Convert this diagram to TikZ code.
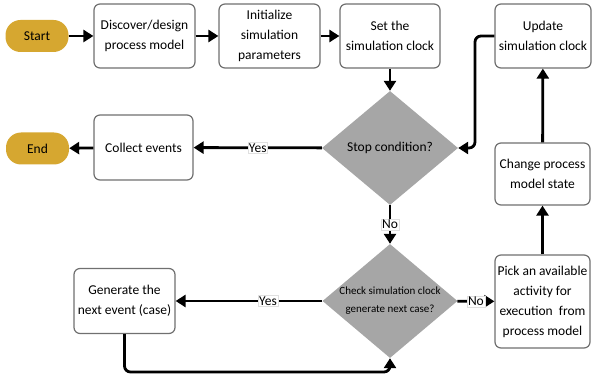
\documentclass[tikz,border=0pt]{standalone}
\usepackage{fontspec}
\setmainfont{Carlito}
\usetikzlibrary{shapes.geometric,arrows.meta}
\definecolor{gold}{HTML}{D6A730}
\definecolor{boxline}{HTML}{707070}
\definecolor{dgray}{HTML}{A6A6A6}
\begin{document}
\begin{tikzpicture}[x=1pt,y=-1pt,
  procbox/.style={draw=boxline,line width=1.2pt,rounded corners=6pt,fill=white,align=center,inner sep=2pt,font=\fontsize{13.5}{20}\selectfont},
  term/.style={fill=gold,rounded corners=15pt,minimum width=63pt,minimum height=32pt,font=\fontsize{13.5}{16}\selectfont},
  decision/.style={diamond,fill=dgray,aspect=1.2,inner sep=0pt,align=center},
  conn/.style={line width=2.8pt,-{Triangle[length=10pt,width=12pt]}},
  lbl/.style={fill=white,draw=black!12,line width=0.3pt,inner sep=1pt,font=\fontsize{13.5}{16}\selectfont}]
\useasboundingbox (0,0) rectangle (592,374);
\node[term] (start) at (37,36) {Start};
\node[procbox,minimum width=101pt,minimum height=64pt] (disc) at (144.5,36) {Discover/design\\process model};
\node[procbox,minimum width=101pt,minimum height=64pt] (init) at (269.5,36) {Initialize\\simulation\\parameters};
\node[procbox,minimum width=100pt,minimum height=64pt] (set) at (390,36) {Set the\\simulation clock};
\node[procbox,minimum width=96pt,minimum height=64pt] (upd) at (543,36) {Update\\simulation clock};
\node[decision,minimum width=136pt,minimum height=114pt,font=\fontsize{13.5}{16}\selectfont] (stop) at (390,148) {Stop condition?};
\node[procbox,minimum width=99pt,minimum height=65pt] (coll) at (143.5,147.5) {Collect events};
\node[term] (end) at (37.5,148.5) {End};
\node[procbox,minimum width=95pt,minimum height=62pt] (chg) at (542.5,174) {Change process\\model state};
\node[procbox,minimum width=95pt,minimum height=93pt] (pick) at (542.5,301.5) {Pick an available\\activity for\\execution\ \ from\\process model};
\node[decision,minimum width=135pt,minimum height=114pt,font=\fontsize{11}{18}\selectfont] (chk) at (390,301) {Check simulation clock\\generate next case?};
\node[procbox,minimum width=101pt,minimum height=65pt] (gen) at (124.5,301) {Generate the\\next event (case)};
\coordinate (u1) at (475,36);
\coordinate (u2) at (475,148);
\coordinate (g1) at (124.5,372);
\coordinate (g2) at (390,372);
\draw[conn] (start) -- (disc);
\draw[conn] (disc) -- (init);
\draw[conn] (init) -- (set);
\draw[conn] (set) -- (stop);
\draw[conn] (stop) -- node[lbl,pos=0.5]{Yes} (coll);
\draw[conn] (coll) -- (end);
\draw[conn,rounded corners=6pt] (upd.west) -- (u1) -- (u2) -- (stop.east);
\draw[conn] (chg) -- (upd);
\draw[conn] (pick) -- (chg);
\draw[conn] (stop) -- node[lbl,pos=0.5]{No} (chk);
\draw[conn] (chk) -- node[lbl,pos=0.37]{Yes} (gen);
\draw[conn] (chk) -- node[lbl,pos=0.5]{No} (pick);
\draw[conn,rounded corners=6pt] (gen.south) -- (g1) -- (g2) -- (chk.south);
\end{tikzpicture}
\end{document}
